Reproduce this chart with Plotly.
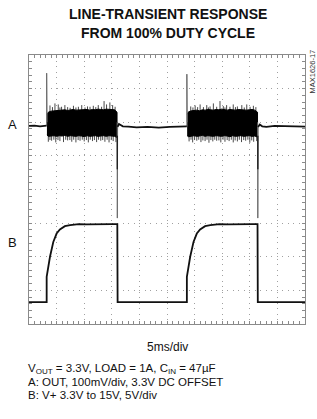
import plotly.graph_objects as go

# ---------------- data (time in divisions 0..10, amplitude in divisions 0..8) ----------------
# Trace A baseline segments (None = gap where the switching burst is drawn)
A_BASE_T = [0.0, 0.2, 0.4, 0.55, 0.64, None,
            3.21, 3.26, 3.32, 3.4, 3.6, 3.9, 4.3, 4.7, 5.1, 5.5, 5.72, None,
            8.30, 8.36, 8.45, 8.6, 8.9, 9.3, 9.7, 10.0]
A_BASE_V = [5.89, 5.90, 5.88, 5.89, 5.90, None,
            5.86, 5.95, 5.92, 5.88, 5.87, 5.85, 5.86, 5.84, 5.86, 5.87, 5.88, None,
            5.86, 5.93, 5.88, 5.86, 5.89, 5.88, 5.89, 5.87]

# Fast transients of trace A at the line steps
A_JUMP_T = [0.64, 0.64, 0.652, None, 3.195, 3.20, 3.21, None,
            5.72, 5.72, 5.732, None, 8.285, 8.29, 8.30]
A_JUMP_V = [5.90, 7.46, 6.00, None, 6.00, 3.15, 5.86, None,
            5.88, 7.43, 6.00, None, 6.00, 3.15, 5.86]
# darker upper part of the falling transients
A_FALL_T = [3.20, 3.20, None, 8.29, 8.29]
A_FALL_V = [5.60, 4.60, None, 5.60, 4.60]

# Switching-noise burst 1 (envelopes)
BURST1_T = [0.65, 0.70, 0.80, 0.90, 1.00, 1.10, 1.20, 1.30, 1.40, 1.50, 1.60, 1.70, 1.80, 1.90,
            2.00, 2.10, 2.20, 2.30, 2.40, 2.50, 2.60, 2.70, 2.80, 2.90, 3.00, 3.10, 3.19]
BURST1_UP = [6.22, 6.30, 6.33, 6.34, 6.36, 6.35, 6.36, 6.37, 6.35, 6.37, 6.38, 6.36, 6.37, 6.38,
             6.37, 6.38, 6.36, 6.38, 6.37, 6.39, 6.38, 6.37, 6.39, 6.38, 6.36, 6.37, 6.30]
BURST1_LO = [5.62, 5.58, 5.59, 5.60, 5.58, 5.60, 5.59, 5.61, 5.58, 5.60, 5.59, 5.58, 5.60, 5.59,
             5.57, 5.60, 5.58, 5.59, 5.60, 5.58, 5.59, 5.60, 5.58, 5.60, 5.59, 5.58, 5.55]
BURST1_SPK_UP_T = [0.76, 0.85, 0.94, 1.06, 1.12, 1.18, 1.30, 1.40, 1.49, 1.61, 1.70, 1.79, 1.91,
                   2.03, 2.12, 2.21, 2.33, 2.42, 2.51, 2.63, 2.72, 2.81, 2.93, 3.03, 3.12]
BURST1_SPK_UP_V = [6.50, 6.45, 6.56, 6.53, 6.44, 6.46, 6.51, 6.45, 6.43, 6.49, 6.44, 6.46, 6.51,
                   6.44, 6.47, 6.46, 6.49, 6.45, 6.51, 6.46, 6.63, 6.53, 6.59, 6.51, 6.46]
BURST1_SPK_LO_T = [0.70, 0.76, 0.82, 0.90, 0.97, 1.05, 1.12, 1.25, 1.33, 1.40, 1.48, 1.55, 1.62,
                   1.70, 1.78, 1.85, 1.93, 2.00, 2.08, 2.15, 2.22, 2.30, 2.37, 2.45, 2.52, 2.60,
                   2.67, 2.75, 2.83, 2.90, 2.98, 3.05, 3.15]
BURST1_SPK_LO_V = [5.42, 5.47, 5.45, 5.48, 5.40, 5.47, 5.44, 5.41, 5.48, 5.46, 5.47, 5.42, 5.48,
                   5.40, 5.47, 5.45, 5.48, 5.43, 5.47, 5.40, 5.48, 5.44, 5.47, 5.41, 5.48, 5.45,
                   5.47, 5.42, 5.48, 5.40, 5.47, 5.44, 5.41]

# Switching-noise burst 2 (envelopes)
BURST2_T = [5.73, 5.78, 5.88, 5.98, 6.08, 6.18, 6.28, 6.38, 6.48, 6.58, 6.68, 6.78, 6.88, 6.98,
            7.08, 7.18, 7.28, 7.38, 7.48, 7.58, 7.68, 7.78, 7.88, 7.98, 8.08, 8.18, 8.28]
BURST2_UP = [6.24, 6.31, 6.34, 6.35, 6.36, 6.34, 6.37, 6.36, 6.38, 6.37, 6.36, 6.38, 6.37, 6.39,
             6.37, 6.36, 6.38, 6.37, 6.36, 6.38, 6.37, 6.38, 6.36, 6.37, 6.38, 6.36, 6.30]
BURST2_LO = [5.60, 5.57, 5.59, 5.60, 5.58, 5.59, 5.61, 5.58, 5.60, 5.59, 5.58, 5.60, 5.59, 5.58,
             5.60, 5.59, 5.57, 5.60, 5.58, 5.59, 5.60, 5.58, 5.59, 5.60, 5.58, 5.59, 5.56]
BURST2_SPK_UP_T = [5.86, 5.94, 6.02, 6.11, 6.20, 6.32, 6.44, 6.50, 6.56, 6.68, 6.80, 6.92, 7.04,
                   7.10, 7.16, 7.28, 7.40, 7.48, 7.55, 7.71, 7.80, 7.89, 8.01, 8.13, 8.22]
BURST2_SPK_UP_V = [6.47, 6.44, 6.50, 6.45, 6.53, 6.45, 6.51, 6.44, 6.47, 6.56, 6.46, 6.63, 6.48,
                   6.44, 6.51, 6.46, 6.53, 6.45, 6.47, 6.51, 6.44, 6.53, 6.46, 6.49, 6.45]
BURST2_SPK_LO_T = [5.80, 5.87, 5.93, 6.00, 6.08, 6.15, 6.23, 6.30, 6.38, 6.45, 6.52, 6.59, 6.66,
                   6.73, 6.80, 6.88, 6.95, 7.03, 7.10, 7.18, 7.25, 7.33, 7.40, 7.47, 7.55, 7.62,
                   7.70, 7.78, 7.85, 7.93, 8.00, 8.07, 8.14, 8.25]
BURST2_SPK_LO_V = [5.43, 5.48, 5.40, 5.47, 5.45, 5.48, 5.41, 5.46, 5.44, 5.48, 5.39, 5.47, 5.43,
                   5.48, 5.45, 5.46, 5.40, 5.48, 5.42, 5.47, 5.44, 5.48, 5.40, 5.46, 5.43, 5.48,
                   5.41, 5.47, 5.45, 5.48, 5.39, 5.46, 5.42, 5.44]

# Trace B (input line step 3.3V -> 15V)
B_T = [0.0, 0.25, 0.5, 0.64, 0.64, 0.70, 0.76, 0.88, 1.00, 1.12, 1.30, 1.49, 1.8, 2.1, 2.4,
       2.7, 3.0, 3.20, 3.21, 3.6, 4.2, 4.8, 5.4, 5.72, 5.72, 5.78, 5.84, 5.96, 6.08, 6.20,
       6.38, 6.57, 6.9, 7.2, 7.5, 7.8, 8.1, 8.28, 8.29, 8.7, 9.2, 9.7, 10.0]
B_V = [0.65, 0.65, 0.64, 0.65, 1.40, 1.70, 2.00, 2.44, 2.69, 2.81, 2.91, 2.94, 2.97, 2.96, 2.97,
       2.96, 2.97, 2.97, 0.65, 0.65, 0.64, 0.65, 0.65, 0.65, 1.40, 1.70, 2.00, 2.44, 2.69, 2.81,
       2.91, 2.94, 2.97, 2.96, 2.97, 2.96, 2.97, 2.97, 0.65, 0.65, 0.65, 0.66, 0.65]

TITLE_LINES = ["LINE-TRANSIENT RESPONSE", "FROM 100% DUTY CYCLE"]
X_LABEL = "5ms/div"
NOTES = ["V<sub>OUT</sub> = 3.3V, LOAD = 1A, C<sub>IN</sub> = 47µF",
         "A: OUT, 100mV/div, 3.3V DC OFFSET",
         "B: V+ 3.3V to 15V, 5V/div"]
PART_ID = "MAX1626-17"

# ---------------- layout geometry (pixels) ----------------
W, H = 317, 419
L, R, T, B = 29, 305, 55, 324


def px(x):
    return (x - L) / (R - L)


def py(y):
    return (B - y) / (B - T)


def segs(ts, vs, base):
    xs, ys = [], []
    for t, v in zip(ts, vs):
        xs += [t, t, None]
        ys += [base, v, None]
    return xs, ys


fig = go.Figure()

# burst spikes (drawn below the band)
for ut, uv, lt, lv in [(BURST1_SPK_UP_T, BURST1_SPK_UP_V, BURST1_SPK_LO_T, BURST1_SPK_LO_V),
                       (BURST2_SPK_UP_T, BURST2_SPK_UP_V, BURST2_SPK_LO_T, BURST2_SPK_LO_V)]:
    x1, y1 = segs(ut, uv, 6.3)
    x2, y2 = segs(lt, lv, 5.65)
    fig.add_trace(go.Scatter(x=x1 + x2, y=y1 + y2, mode="lines",
                             line=dict(color="#4a4a4a", width=1), hoverinfo="skip", showlegend=False))

# burst bands
for bt, bu, bl in [(BURST1_T, BURST1_UP, BURST1_LO), (BURST2_T, BURST2_UP, BURST2_LO)]:
    fig.add_trace(go.Scatter(x=bt + bt[::-1], y=bu + bl[::-1], mode="lines", fill="toself",
                             fillcolor="#000000", line=dict(color="#000000", width=1),
                             hoverinfo="skip", showlegend=False))

# A fast transients
fig.add_trace(go.Scatter(x=A_JUMP_T, y=A_JUMP_V, mode="lines",
                         line=dict(color="#6a6a6a", width=1), hoverinfo="skip", showlegend=False))
fig.add_trace(go.Scatter(x=A_FALL_T, y=A_FALL_V, mode="lines",
                         line=dict(color="#222222", width=1.4), hoverinfo="skip", showlegend=False))
# A baseline
fig.add_trace(go.Scatter(x=A_BASE_T, y=A_BASE_V, mode="lines", connectgaps=False,
                         line=dict(color="#111111", width=1.8), hoverinfo="skip", showlegend=False))
# B trace
fig.add_trace(go.Scatter(x=B_T, y=B_V, mode="lines",
                         line=dict(color="#111111", width=1.8), hoverinfo="skip", showlegend=False))

axis_common = dict(showticklabels=False, ticks="inside", ticklen=3, tickcolor="#8a8a8a",
                   tickwidth=1, showline=True, linecolor="#8a8a8a", linewidth=1, mirror="ticks",
                   zeroline=False, showgrid=True, gridcolor="#a0a0a0", gridwidth=1, fixedrange=True)

fig.update_xaxes(range=[0, 10], tick0=0, dtick=1, griddash="1px,4.5px",
                 minor=dict(dtick=0.2, tick0=0, ticks="inside", ticklen=3, tickcolor="#8a8a8a",
                            showgrid=False), **axis_common)
fig.update_yaxes(range=[0, 8], tick0=0, dtick=1, griddash="1px,4.5px",
                 minor=dict(dtick=0.2, tick0=0, ticks="inside", ticklen=3, tickcolor="#8a8a8a",
                            showgrid=False), **axis_common)

BODY_FONT = "Liberation Sans, Arial, sans-serif"
TITLE_FONT = "Liberation Sans, Arial, sans-serif"

ann = []
for i, line in enumerate(TITLE_LINES):
    ann.append(dict(text="<b>" + line + "</b>", x=px(168), y=py(14 + 19.5 * i), xref="paper", yref="paper",
                    xanchor="center", yanchor="middle", showarrow=False,
                    font=dict(family=TITLE_FONT, size=14, color="#111111")))
ann.append(dict(text=X_LABEL, x=px(167), y=py(347.5), xref="paper", yref="paper",
                xanchor="center", yanchor="middle", showarrow=False,
                font=dict(family=BODY_FONT, size=12, color="#111111")))
for i, line in enumerate(NOTES):
    ann.append(dict(text=line, x=px(26), y=py(369 + 13 * i), xref="paper", yref="paper",
                    xanchor="left", yanchor="middle", showarrow=False,
                    font=dict(family=BODY_FONT, size=11.5, color="#111111")))
ann.append(dict(text="A", x=px(12), y=py(124.5), xref="paper", yref="paper",
                xanchor="center", yanchor="middle", showarrow=False,
                font=dict(family=BODY_FONT, size=13, color="#111111")))
ann.append(dict(text="B", x=px(12), y=py(242), xref="paper", yref="paper",
                xanchor="center", yanchor="middle", showarrow=False,
                font=dict(family=BODY_FONT, size=13, color="#111111")))
ann.append(dict(text=PART_ID, x=px(311.5), y=py(72), xref="paper", yref="paper",
                xanchor="center", yanchor="middle", showarrow=False, textangle=-90,
                font=dict(family=BODY_FONT, size=7.5, color="#333333")))

fig.update_layout(width=W, height=H, margin=dict(l=L, r=W - R, t=T, b=H - B, pad=0),
                  paper_bgcolor="white", plot_bgcolor="white", annotations=ann,
                  showlegend=False)

fig.write_html("out.html", config={"displayModeBar": False},
               post_script="document.body.style.margin='0';document.body.style.padding='0';")
